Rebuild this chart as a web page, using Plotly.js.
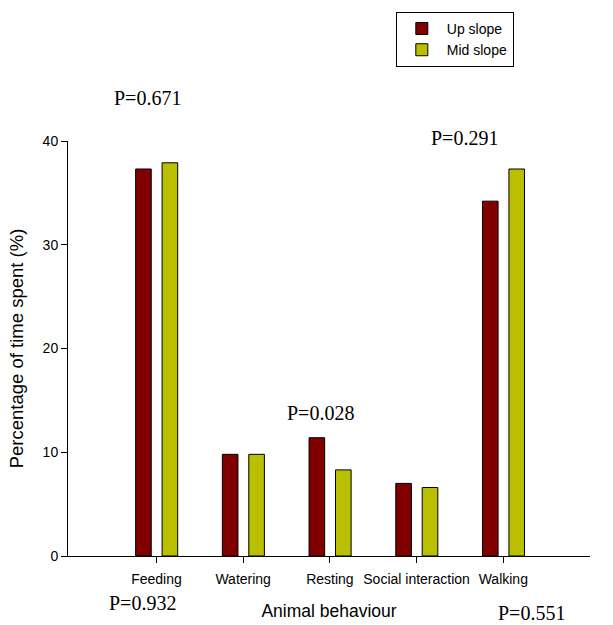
<!DOCTYPE html>
<html><head><meta charset="utf-8">
<script src="https://cdn.plot.ly/plotly-3.0.1.min.js"></script>
<style>html,body{margin:0;padding:0;background:#fff}#chart{width:613px;height:625px}</style>
</head><body><div id="chart"></div>
<script>
const categories = ["Feeding", "Watering", "Resting", "Social interaction", "Walking"];
const upSlope = [37.3, 9.8, 11.4, 7.0, 34.2];
const midSlope = [37.9, 9.8, 8.3, 6.6, 37.3];
const pLabels = ["P=0.671", "P=0.291", "P=0.028", "P=0.932", "P=0.551"];
const yTicks = [0, 10, 20, 30, 40];

const lineStyle = {color: "#000", width: 1};
const traces = [
  {type: "bar", name: "Up slope", x: categories, y: upSlope, width: 0.18, offset: -0.24,
   marker: {color: "#800000", line: lineStyle}},
  {type: "bar", name: "Mid slope", x: categories, y: midSlope, width: 0.18, offset: 0.065,
   marker: {color: "#BABF00", line: lineStyle}}
];

const serif = {family: "Liberation Serif, Times New Roman, serif", size: 20, color: "#000"};
const ann = (text, x, y) => ({text, x, y, xref: "paper", yref: "paper", showarrow: false,
  xanchor: "center", yanchor: "middle", font: serif});

const layout = {
  width: 613, height: 625,
  margin: {l: 68, r: 23, t: 141, b: 69},
  paper_bgcolor: "#fff", plot_bgcolor: "#fff",
  font: {family: "Liberation Sans, Arial, sans-serif", size: 14, color: "#000"},
  showlegend: true,
  legend: {x: 0.628, y: 1.311, xanchor: "left", yanchor: "top", bordercolor: "#000", borderwidth: 1,
    bgcolor: "#fff", font: {size: 14}, itemwidth: 40, tracegroupgap: 0},
  xaxis: {type: "category", range: [-1.02, 5.0], showline: true, linecolor: "#000", linewidth: 1,
    ticks: "outside", ticklen: 6, tickcolor: "#000", showgrid: false, zeroline: false,
    tickfont: {size: 14}, ticklabelstandoff: 4, fixedrange: true,
    title: {text: "Animal behaviour", font: {size: 17.5}, standoff: 18}},
  yaxis: {range: [0, 40], tickvals: yTicks, showline: true, linecolor: "#000", linewidth: 1,
    ticks: "outside", ticklen: 6, tickcolor: "#000", showgrid: false, zeroline: false,
    tickfont: {size: 14},
    title: {text: "Percentage of time spent (%)", font: {size: 18.5}, standoff: 14}},
  annotations: [
    ann(pLabels[0], 0.153, 1.104),
    ann(pLabels[1], 0.759, 1.008),
    ann(pLabels[2], 0.483, 0.345),
    ann(pLabels[3], 0.142, -0.113),
    ann(pLabels[4], 0.887, -0.137)
  ]
};

Plotly.newPlot("chart", traces, layout, {displayModeBar: false, staticPlot: true});
</script></body></html>
